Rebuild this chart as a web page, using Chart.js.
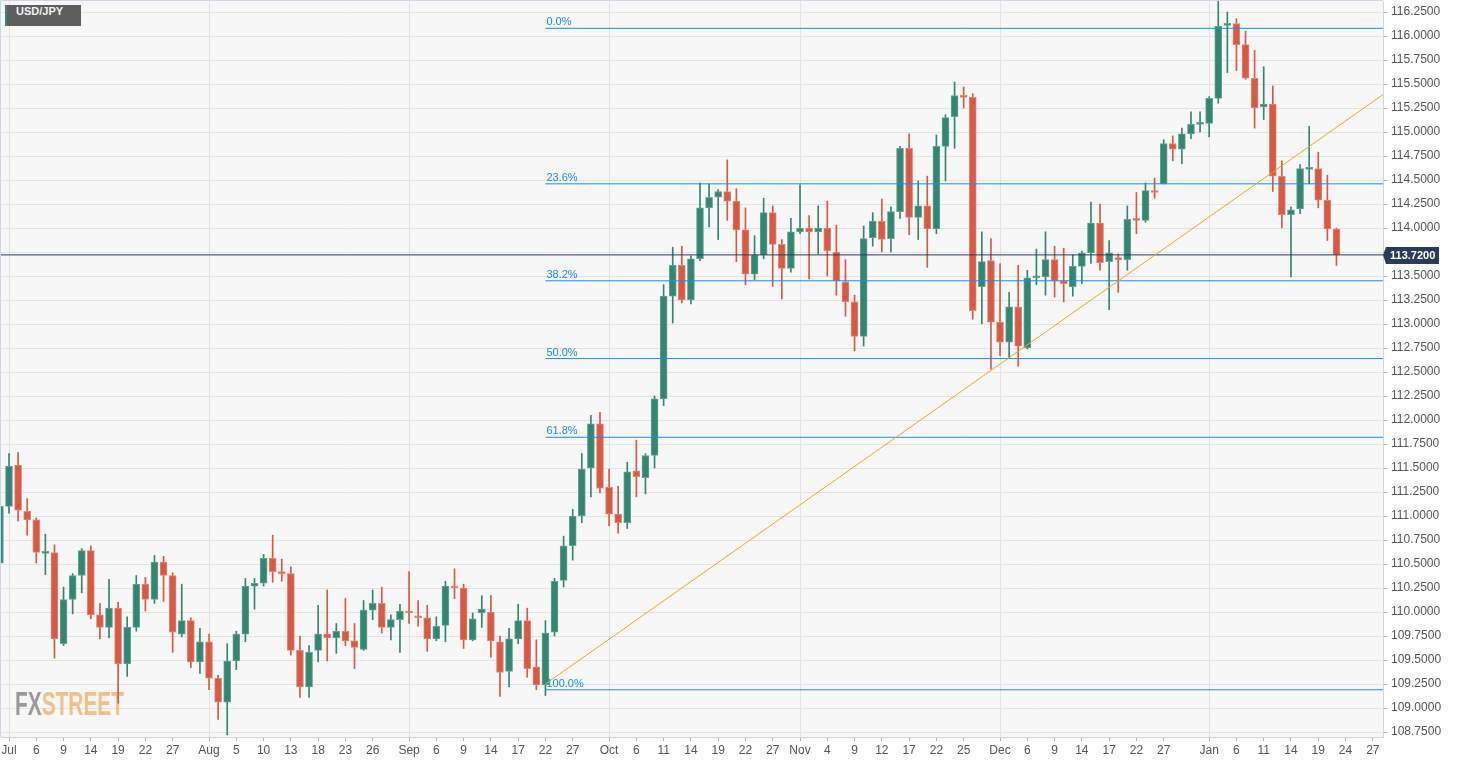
<!DOCTYPE html>
<html>
<head>
<meta charset="utf-8">
<title>USD/JPY</title>
<script src="https://cdn.jsdelivr.net/npm/chart.js@4.4.1/dist/chart.umd.min.js"></script>
<style>
  html, body { margin: 0; padding: 0; background: #fff; }
  #wrap { position: relative; width: 1459px; height: 762px; }
  #title {
    position: absolute; left: 5px; top: 5px; height: 21px; line-height: 21px;
    padding: 0 18px 0 9px; background: #5e5e5e; color: #f2f2f2;
    border-left: 2px solid #2f8a6f;
    font: bold 11px "Liberation Sans", Arial, sans-serif;
  }
</style>
</head>
<body>
<div id="wrap">
  <canvas id="chart"></canvas>
  <div id="title">USD/JPY</div>
</div>
<script>
// first candle is Jun 30 (one trading day before Jul 1 = index 0)
const FIRST_X = -1;

// daily candles, Jun 30 2021 .. Jan 21 2022 (weekdays)
const opens = [
  110.51,111.10,111.53,111.05,110.96,110.61,110.62,109.67,110.13,110.38,
  110.64,109.97,109.84,110.04,109.46,109.84,110.29,110.13,110.52,110.38,
  109.77,109.91,109.48,109.69,109.31,109.06,109.49,109.77,110.27,110.30,
  110.56,110.41,110.40,109.60,109.22,109.60,109.77,109.73,109.80,109.70,
  109.61,110.02,110.09,109.84,109.92,110.01,109.96,109.94,109.72,109.86,
  110.27,110.25,109.71,109.99,110.00,109.69,109.38,109.72,109.91,109.43,
  109.24,109.79,110.33,110.69,111.00,111.50,111.96,111.30,111.02,110.93,
  111.47,111.40,111.63,112.22,113.29,113.61,113.25,113.68,114.21,114.32,
  114.38,114.28,113.98,113.52,113.72,114.16,113.83,113.58,113.96,114.00,
  113.96,114.00,113.75,113.44,113.23,112.87,113.90,114.07,113.89,114.17,
  114.83,114.11,114.23,113.99,114.85,115.16,115.38,115.36,113.39,113.66,
  113.02,112.81,113.18,112.75,113.48,113.49,113.67,113.45,113.39,113.60,
  113.74,114.05,113.65,113.69,113.67,114.09,114.08,114.39,114.46,114.88,
  114.82,114.98,115.08,115.09,115.35,116.11,116.13,115.91,115.56,115.26,
  115.29,114.54,114.14,114.20,114.61,114.62,114.29,113.99
];
const highs = [
  111.15,111.65,111.66,111.18,110.98,110.81,110.70,110.26,110.40,110.66,
  110.69,110.09,110.34,110.10,109.95,110.38,110.36,110.59,110.58,110.41,
  110.29,109.94,109.83,109.77,109.34,109.67,109.80,110.35,110.35,110.60,
  110.80,110.55,110.47,109.75,109.65,110.07,110.23,109.88,110.14,109.88,
  110.12,110.23,110.26,109.97,110.08,110.42,110.12,110.07,109.95,110.32,
  110.45,110.29,109.99,110.17,110.17,109.75,109.83,110.08,110.04,109.71,
  109.91,110.35,110.79,111.07,111.65,112.05,112.08,111.49,111.31,111.56,
  111.79,111.65,112.25,113.41,113.80,113.81,113.71,114.47,114.46,114.40,
  114.71,114.41,114.21,113.92,114.31,114.23,113.88,114.10,114.45,114.13,
  114.23,114.28,114.03,113.67,113.30,114.02,114.16,114.30,114.22,114.85,
  114.98,114.49,114.54,114.97,115.18,115.52,115.47,115.40,113.96,113.89,
  113.63,113.33,113.61,113.56,113.78,113.96,113.81,113.79,113.72,113.76,
  114.27,114.25,113.87,113.73,114.23,114.37,114.47,114.52,114.92,114.96,
  115.04,115.21,115.21,115.37,116.36,116.25,116.18,116.05,115.85,115.68,
  115.48,114.70,114.22,114.66,115.06,114.79,114.55,114.00
];
const lows = [
  110.42,111.03,110.95,110.80,110.51,110.39,109.52,109.65,109.98,110.20,
  109.93,109.72,109.73,109.05,109.33,109.80,110.01,110.09,110.11,109.58,
  109.74,109.42,109.36,109.19,108.88,108.72,109.40,109.69,110.03,110.27,
  110.31,110.32,109.55,109.11,109.11,109.48,109.49,109.57,109.65,109.41,
  109.60,109.92,109.78,109.71,109.58,109.88,109.85,109.59,109.70,109.69,
  110.14,109.62,109.70,109.84,109.53,109.12,109.22,109.67,109.32,109.19,
  109.13,109.75,110.26,110.54,110.93,111.20,111.24,110.90,110.82,110.87,
  111.20,111.23,111.50,112.15,113.01,113.22,113.21,113.66,114.01,113.88,
  114.08,113.65,113.41,113.46,113.68,113.39,113.26,113.54,113.94,113.47,
  113.73,113.50,113.30,113.08,112.72,112.77,113.81,113.75,113.75,114.10,
  113.93,113.88,113.59,113.94,114.49,114.83,115.25,113.05,113.00,112.53,
  112.67,112.64,112.56,112.74,113.41,113.30,113.28,113.23,113.29,113.42,
  113.63,113.56,113.15,113.33,113.56,113.94,114.06,114.31,114.46,114.70,
  114.67,114.93,115.00,114.95,115.30,115.62,115.64,115.55,115.04,115.13,
  114.38,114.00,113.49,114.15,114.46,114.21,113.87,113.61
];
const closes = [
  111.10,111.52,111.06,110.96,110.62,110.63,109.72,110.13,110.38,110.64,
  109.97,109.84,110.04,109.46,109.84,110.29,110.13,110.52,110.38,109.79,
  109.91,109.48,109.69,109.31,109.06,109.49,109.77,110.27,110.30,110.56,
  110.42,110.40,109.60,109.22,109.58,109.77,109.73,109.80,109.70,109.63,
  110.02,110.09,109.84,109.92,110.01,109.99,109.94,109.72,109.85,110.27,
  110.25,109.71,109.93,110.03,109.70,109.37,109.72,109.91,109.41,109.24,
  109.78,110.32,110.69,111.00,111.49,111.96,111.29,111.02,110.93,111.46,
  111.41,111.63,112.22,113.29,113.61,113.25,113.68,114.21,114.32,114.38,
  114.28,113.98,113.52,113.72,114.16,113.83,113.58,113.96,114.00,113.96,
  114.00,113.76,113.45,113.23,112.87,113.89,114.07,113.88,114.17,114.83,
  114.11,114.23,113.99,114.85,115.15,115.38,115.36,113.14,113.65,113.02,
  112.81,113.18,112.77,113.48,113.49,113.67,113.45,113.42,113.60,113.74,
  114.05,113.64,113.74,113.67,114.09,114.08,114.39,114.37,114.88,114.82,
  114.98,115.08,115.10,115.35,116.10,116.13,115.91,115.56,115.25,115.29,
  114.54,114.14,114.19,114.62,114.62,114.29,113.99,113.72
];

// x axis labels (trading-day index -> text)
const xTickPos  = [0,3,6,9,12,15,18, 22,25,28,31,34,37,40, 44,47,50,53,56,59,62,
                   66,69,72,75,78,81,84, 87,90,93,96,99,102,105, 109,112,115,118,121,124,127,
                   132,135,138,141,144,147,150];
const xTickText = ['Jul','6','9','14','19','22','27', 'Aug','5','10','13','18','23','26',
                   'Sep','6','9','14','17','22','27', 'Oct','6','11','14','19','22','27',
                   'Nov','4','9','12','17','22','25', 'Dec','6','9','14','17','22','27',
                   'Jan','6','11','14','19','24','27'];
const monthStarts = [0,22,44,66,87,109,132];

const yTicks = [];
for (let v = 108.75; v <= 116.2501; v += 0.25) yTicks.push(+v.toFixed(2));

// fibonacci retracement
const fibLevels = [116.08, 114.46, 113.45, 112.64, 111.82, 109.19];
const fibText   = ['0.0%', '23.6%', '38.2%', '50.0%', '61.8%', '100.0%'];
const fibStartX = 59;

// trend line
const trendX = [59, 151.12];
const trendY = [109.25, 115.39];

const lastPrice = 113.72;

const X_MIN = -0.88, X_MAX = 151.12;
const Y_MIN = 108.698, Y_MAX = 116.3646;

const GREEN = '#348672', RED = '#d65a46';
const FIB_BLUE = '#1c8cf0';
const FONT = '"Liberation Sans", Arial, sans-serif';

const xs = opens.map((_, i) => i + FIRST_X);
const isUp = opens.map((o, i) => closes[i] >= o);
const candleColors = isUp.map(u => u ? GREEN : RED);
const bodyBorders = isUp.map(u => u ? '#65a493' : '#e58878');

const datasets = [
    {
        type: 'bar', label: 'body',
        data: xs.map((x, i) => ({ x: x, y: [opens[i], closes[i]] })),
        backgroundColor: candleColors, borderColor: bodyBorders,
        borderWidth: 1, borderSkipped: false, barThickness: 7, minBarLength: 2,
        grouped: false, order: 1
    },
    {
        type: 'bar', label: 'wick',
        data: xs.map((x, i) => ({ x: x, y: [lows[i], highs[i]] })),
        backgroundColor: candleColors, borderWidth: 0, barThickness: 1,
        grouped: false, order: 2
    },
    {
        type: 'line', label: 'trend',
        data: trendX.map((x, i) => ({ x: x, y: trendY[i] })),
        borderColor: '#f5a428', borderWidth: 1, pointRadius: 0, order: 0
    },
    {
        type: 'line', label: 'last',
        data: [{ x: X_MIN, y: lastPrice }, { x: X_MAX, y: lastPrice }],
        borderColor: '#2c3c58', borderWidth: 1, pointRadius: 0, order: 0
    }
];
fibLevels.forEach((lvl, i) => {
    datasets.push({
        type: 'line', label: fibText[i],
        data: [{ x: fibStartX, y: lvl }, { x: X_MAX, y: lvl }],
        borderColor: FIB_BLUE, borderWidth: 1, pointRadius: 0, order: 0
    });
});

// background, watermark, fib labels, price tag, frame
const decor = {
    id: 'decor',
    beforeDraw(chart) {
        const { ctx, chartArea: a } = chart;
        ctx.save();
        ctx.fillStyle = '#ffffff';
        ctx.fillRect(0, 0, chart.width, chart.height);
        ctx.fillStyle = '#f7f7f7';
        ctx.fillRect(a.left, a.top, a.right - a.left, a.bottom - a.top);
        ctx.restore();
    },
    beforeDatasetsDraw(chart) {
        const ctx = chart.ctx;
        ctx.save();
        ctx.font = 'bold 33px ' + FONT;
        const w1 = ctx.measureText('FX').width;
        const w2 = ctx.measureText('STREET').width;
        ctx.translate(15, 715);
        ctx.scale(109 / (w1 + w2), 1);
        ctx.textBaseline = 'alphabetic';
        ctx.fillStyle = '#9a9a9a';
        ctx.fillText('FX', 0, 0);
        ctx.fillStyle = '#f0c188';
        ctx.fillText('STREET', w1, 0);
        ctx.restore();
    },
    afterDatasetsDraw(chart) {
        const { ctx, scales: { x, y } } = chart;
        ctx.save();
        ctx.font = '11px ' + FONT;
        ctx.fillStyle = FIB_BLUE;
        ctx.textBaseline = 'alphabetic';
        fibLevels.forEach((lvl, i) => {
            ctx.fillText(fibText[i], x.getPixelForValue(fibStartX) + 1, y.getPixelForValue(lvl) - 3);
        });
        ctx.restore();
    },
    afterDraw(chart) {
        const { ctx, chartArea: a, scales: { y } } = chart;
        ctx.save();
        ctx.strokeStyle = '#cfd5e6';
        ctx.lineWidth = 1;
        ctx.beginPath();
        ctx.moveTo(a.left - 0.5, a.bottom);
        ctx.lineTo(a.left - 0.5, a.top - 0.5);
        ctx.lineTo(a.right, a.top - 0.5);
        ctx.stroke();

        const py = Math.round(y.getPixelForValue(lastPrice));
        const x0 = a.right;
        ctx.fillStyle = '#2b3b57';
        ctx.beginPath();
        ctx.moveTo(x0, py);
        ctx.lineTo(x0 + 3, py - 8);
        ctx.lineTo(x0 + 56, py - 8);
        ctx.lineTo(x0 + 56, py + 9);
        ctx.lineTo(x0 + 3, py + 9);
        ctx.closePath();
        ctx.fill();
        ctx.fillStyle = '#ffffff';
        ctx.font = 'bold 11px ' + FONT;
        ctx.textBaseline = 'middle';
        ctx.fillText(lastPrice.toFixed(4), x0 + 7, py + 1);
        ctx.restore();
    }
};

// keep the plot area flush with the frame: no label overhang padding
const noPad = s => { s.paddingTop = 0; s.paddingBottom = 0; s.paddingLeft = 0; s.paddingRight = 0; };

new Chart(document.getElementById('chart'), {
    type: 'line',
    data: { datasets: datasets },
    options: {
        responsive: true,
        maintainAspectRatio: false,
        animation: false,
        events: [],
        layout: { padding: { top: 1, left: 1, right: 0, bottom: 0 } },
        plugins: { legend: { display: false }, tooltip: { enabled: false } },
        scales: {
            x: {
                type: 'linear', min: X_MIN, max: X_MAX, offset: false,
                afterBuildTicks: s => { s.ticks = xTickPos.map(v => ({ value: v })); },
                afterFit: s => { s.height = 25; noPad(s); },
                ticks: {
                    autoSkip: false, maxRotation: 0, padding: 2, color: '#555',
                    font: { size: 12, family: FONT },
                    callback: (v, i) => xTickText[i]
                },
                grid: {
                    offset: false,
                    color: c => (c.tick && monthStarts.includes(c.tick.value)) ? '#e3e3e3' : 'rgba(0,0,0,0)',
                    tickColor: '#b5b5b5', tickLength: 4
                },
                border: { color: '#cfd5e6' }
            },
            y: {
                type: 'linear', position: 'right', min: Y_MIN, max: Y_MAX,
                afterBuildTicks: s => { s.ticks = yTicks.map(v => ({ value: v })); },
                afterFit: s => { s.width = 76; noPad(s); },
                ticks: {
                    autoSkip: false, padding: 4, color: '#555',
                    font: { size: 12, family: FONT },
                    // the price tag covers the label next to it
                    callback: v => Math.abs(v - lastPrice) < 0.1 ? '' : Number(v).toFixed(4)
                },
                grid: { color: '#e3e3e3', tickColor: '#b5b5b5', tickLength: 4 },
                border: { color: '#cfd5e6' }
            }
        }
    },
    plugins: [decor]
});
</script>
</body>
</html>
